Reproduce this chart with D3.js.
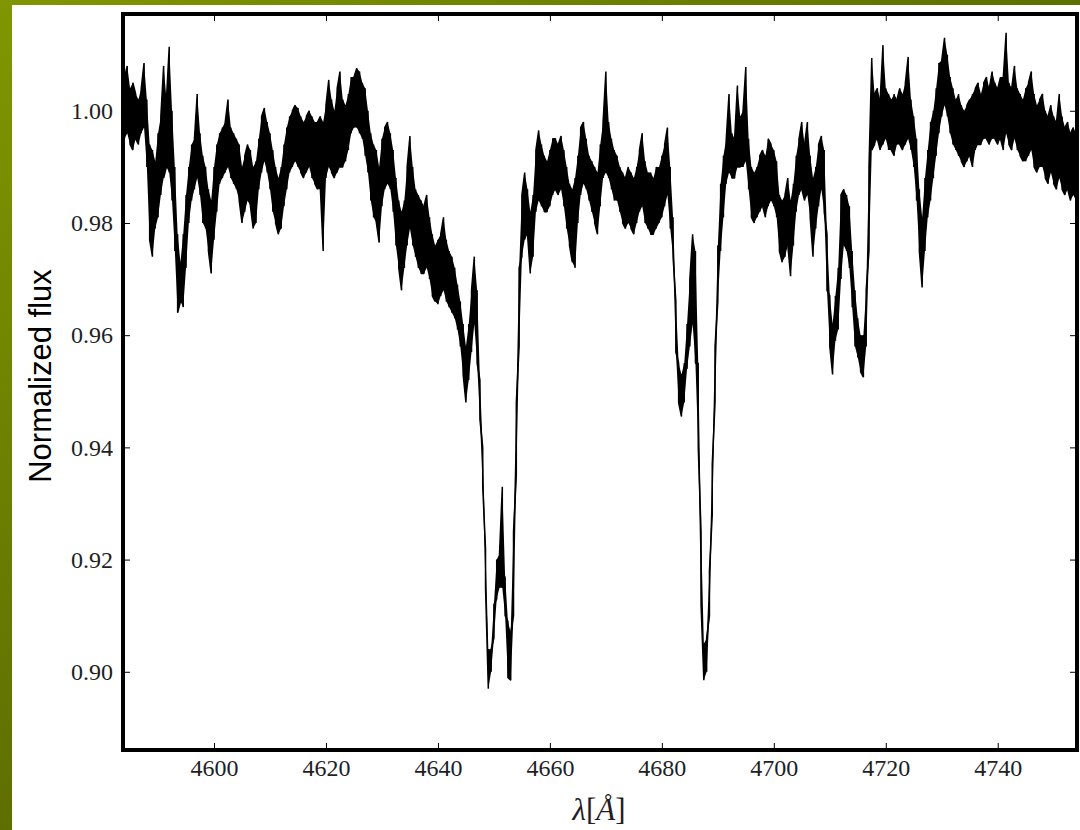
<!DOCTYPE html>
<html>
<head>
<meta charset="utf-8">
<script src="https://cdn.jsdelivr.net/npm/d3@7"></script>
<style>
  html, body { margin: 0; padding: 0; background: #fff; }
  svg { display: block; }
</style>
</head>
<body>
<script>
// Spectrum binned on a 0.5 Å grid: highest and lowest normalized flux in each bin.
const lambdaStart = 4583.5;
const lambdaStep = 0.5;

const fluxHigh = [
  1.003, 1.006, 1.008, 1.004, 1.005, 1.003, 1.002, 1.004, 1.0085, 1.002,   // 4583.5
  0.994, 0.993, 0.991, 0.996, 0.999, 1.008, 1.002, 1.0114, 1.000, 0.990,   // 4588.5
  0.978, 0.973, 0.978, 0.985, 0.990, 0.994, 0.995, 1.003, 0.996, 0.992,    // 4593.5
  0.990, 0.986, 0.984, 0.990, 0.994, 0.996, 0.997, 0.998, 1.002, 0.997,    // 4598.5
  0.996, 0.995, 0.994, 0.990, 0.992, 0.994, 0.993, 0.990, 0.991, 0.995,    // 4603.5
  0.999, 1.0005, 0.998, 0.996, 0.993, 0.990, 0.988, 0.990, 0.994, 0.997,   // 4608.5
  0.999, 1.000, 1.001, 1.0005, 0.999, 0.998, 0.999, 1.000, 0.999, 0.998,   // 4613.5
  0.998, 0.999, 0.998, 1.001, 1.0055, 1.002, 1.000, 1.004, 1.007, 1.002,   // 4618.5
  1.001, 1.003, 1.006, 1.006, 1.0076, 1.007, 1.005, 1.004, 1.000, 0.996,   // 4623.5
  0.994, 0.993, 0.990, 0.995, 0.997, 0.998, 0.996, 0.993, 0.988, 0.984,    // 4628.5
  0.982, 0.984, 0.990, 0.9955, 0.990, 0.986, 0.985, 0.984, 0.983, 0.985,   // 4633.5
  0.981, 0.978, 0.976, 0.977, 0.978, 0.981, 0.977, 0.975, 0.974, 0.972,    // 4638.5
  0.969, 0.966, 0.962, 0.958, 0.962, 0.968, 0.974, 0.968, 0.952, 0.940,    // 4643.5
  0.922, 0.904, 0.904, 0.912, 0.920, 0.921, 0.933, 0.917, 0.909, 0.907,    // 4648.5
  0.925, 0.948, 0.972, 0.985, 0.989, 0.986, 0.982, 0.985, 0.993, 0.9965,   // 4653.5
  0.994, 0.992, 0.991, 0.993, 0.995, 0.995, 0.994, 0.9955, 0.993, 0.990,   // 4658.5
  0.987, 0.986, 0.988, 0.992, 0.997, 0.998, 0.995, 0.992, 0.991, 0.990,    // 4663.5
  0.989, 0.994, 0.998, 1.007, 0.998, 0.995, 0.993, 0.992, 0.990, 0.989,    // 4668.5
  0.988, 0.990, 0.989, 0.988, 0.990, 0.993, 0.996, 0.991, 0.989, 0.989,    // 4673.5
  0.988, 0.990, 0.990, 0.992, 0.994, 0.997, 0.990, 0.981, 0.966, 0.955,    // 4678.5
  0.953, 0.955, 0.962, 0.970, 0.978, 0.975, 0.955, 0.925, 0.905, 0.906,    // 4683.5
  0.918, 0.937, 0.958, 0.976, 0.987, 0.992, 0.995, 1.003, 0.996, 0.995,    // 4688.5
  1.0045, 0.999, 1.000, 1.0078, 0.995, 0.990, 0.989, 0.990, 0.992, 0.993,  // 4693.5
  0.992, 0.995, 0.994, 0.993, 0.991, 0.985, 0.984, 0.985, 0.988, 0.984,    // 4698.5
  0.987, 0.992, 0.995, 0.998, 0.994, 0.998, 0.992, 0.988, 0.990, 0.994,    // 4703.5
  0.9955, 0.993, 0.978, 0.967, 0.962, 0.967, 0.972, 0.985, 0.986, 0.985,   // 4708.5
  0.983, 0.975, 0.968, 0.963, 0.960, 0.960, 0.968, 0.990, 1.0094, 1.003,   // 4713.5
  1.004, 1.002, 1.0117, 1.004, 1.003, 1.002, 1.003, 1.002, 1.004, 1.003,   // 4718.5
  1.005, 1.0096, 1.002, 0.999, 0.995, 0.986, 0.981, 0.988, 0.993, 0.998,   // 4723.5
  1.000, 1.004, 1.0085, 1.009, 1.013, 1.010, 1.006, 1.004, 1.002, 1.003,   // 4728.5
  1.001, 1.000, 1.001, 1.002, 1.003, 1.004, 1.005, 1.003, 1.005, 1.006,    // 4733.5
  1.004, 1.007, 1.005, 1.004, 1.006, 1.006, 1.0139, 1.005, 1.004, 1.008,   // 4738.5
  1.004, 1.003, 1.002, 1.004, 1.005, 1.007, 1.003, 1.001, 1.002, 1.003,    // 4743.5
  1.000, 0.999, 1.001, 0.999, 0.998, 1.003, 0.999, 0.997, 0.998, 0.996,    // 4748.5
  0.997, 0.996, 0.995                                                       // 4753.5
];

const fluxLow = [
  0.993, 0.995, 0.996, 0.994, 0.993, 0.995, 0.994, 0.996, 0.997, 0.990,    // 4583.5
  0.977, 0.974, 0.979, 0.981, 0.985, 0.988, 0.990, 0.989, 0.984, 0.975,    // 4588.5
  0.964, 0.966, 0.965, 0.972, 0.980, 0.984, 0.986, 0.988, 0.985, 0.980,    // 4593.5
  0.979, 0.975, 0.971, 0.977, 0.982, 0.987, 0.988, 0.989, 0.990, 0.988,    // 4598.5
  0.987, 0.986, 0.984, 0.980, 0.982, 0.984, 0.983, 0.979, 0.980, 0.986,    // 4603.5
  0.989, 0.991, 0.989, 0.986, 0.982, 0.980, 0.978, 0.979, 0.983, 0.986,    // 4608.5
  0.989, 0.990, 0.991, 0.990, 0.989, 0.988, 0.989, 0.990, 0.988, 0.987,    // 4613.5
  0.986, 0.986, 0.975, 0.988, 0.990, 0.989, 0.988, 0.989, 0.990, 0.990,    // 4618.5
  0.991, 0.993, 0.996, 0.997, 0.997, 0.996, 0.995, 0.992, 0.989, 0.984,    // 4623.5
  0.981, 0.980, 0.9765, 0.983, 0.986, 0.987, 0.986, 0.982, 0.976, 0.972,   // 4628.5
  0.968, 0.972, 0.976, 0.979, 0.976, 0.974, 0.972, 0.971, 0.971, 0.972,    // 4633.5
  0.970, 0.967, 0.966, 0.9655, 0.967, 0.968, 0.966, 0.965, 0.964, 0.963,   // 4638.5
  0.961, 0.958, 0.953, 0.948, 0.952, 0.957, 0.962, 0.955, 0.945, 0.933,    // 4643.5
  0.915, 0.897, 0.900, 0.906, 0.913, 0.915, 0.915, 0.910, 0.899, 0.8985,   // 4648.5
  0.910, 0.935, 0.958, 0.974, 0.977, 0.978, 0.971, 0.974, 0.982, 0.984,    // 4653.5
  0.983, 0.982, 0.982, 0.983, 0.985, 0.986, 0.985, 0.986, 0.983, 0.979,    // 4658.5
  0.976, 0.973, 0.972, 0.980, 0.985, 0.987, 0.986, 0.984, 0.982, 0.980,    // 4663.5
  0.978, 0.983, 0.988, 0.989, 0.988, 0.986, 0.984, 0.984, 0.982, 0.980,    // 4668.5
  0.979, 0.980, 0.979, 0.978, 0.980, 0.982, 0.983, 0.980, 0.979, 0.978,    // 4673.5
  0.978, 0.979, 0.980, 0.981, 0.983, 0.985, 0.979, 0.974, 0.957, 0.948,    // 4678.5
  0.9455, 0.948, 0.954, 0.958, 0.962, 0.955, 0.940, 0.912, 0.8985, 0.900,  // 4683.5
  0.910, 0.928, 0.948, 0.966, 0.975, 0.981, 0.987, 0.989, 0.988, 0.988,    // 4688.5
  0.990, 0.990, 0.990, 0.991, 0.986, 0.981, 0.980, 0.981, 0.982, 0.983,    // 4693.5
  0.981, 0.983, 0.984, 0.983, 0.981, 0.975, 0.973, 0.974, 0.976, 0.9705,   // 4698.5
  0.976, 0.982, 0.985, 0.986, 0.984, 0.985, 0.981, 0.974, 0.979, 0.983,    // 4703.5
  0.986, 0.982, 0.968, 0.958, 0.953, 0.959, 0.961, 0.970, 0.976, 0.975,    // 4708.5
  0.972, 0.965, 0.958, 0.956, 0.9535, 0.9525, 0.958, 0.975, 0.993, 0.994,  // 4713.5
  0.995, 0.993, 0.994, 0.995, 0.993, 0.993, 0.992, 0.994, 0.994, 0.993,    // 4718.5
  0.994, 0.995, 0.993, 0.990, 0.984, 0.975, 0.9685, 0.975, 0.981, 0.984,   // 4723.5
  0.988, 0.992, 0.996, 0.999, 1.001, 0.999, 0.996, 0.994, 0.993, 0.992,    // 4728.5
  0.991, 0.990, 0.991, 0.992, 0.990, 0.993, 0.994, 0.994, 0.995, 0.995,    // 4733.5
  0.994, 0.995, 0.995, 0.994, 0.995, 0.993, 0.996, 0.994, 0.993, 0.995,    // 4738.5
  0.993, 0.992, 0.991, 0.991, 0.992, 0.993, 0.990, 0.989, 0.990, 0.990,    // 4743.5
  0.988, 0.987, 0.989, 0.987, 0.986, 0.988, 0.986, 0.985, 0.986, 0.984,    // 4748.5
  0.985, 0.984, 0.984                                                       // 4753.5
];

const xTicks = [4600, 4620, 4640, 4660, 4680, 4700, 4720, 4740];
const yTicks = [0.90, 0.92, 0.94, 0.96, 0.98, 1.00];
const xDomain = [4583.74, 4754.16];
const yDomain = [0.88606, 1.01725];

const W = 1080, H = 830;
const plot = { left: 123, right: 1077, top: 14, bottom: 750 };

const bins = fluxHigh.map((hi, i) => ({
  lambda: lambdaStart + i * lambdaStep,
  hi: hi,
  lo: fluxLow[i]
}));

// Trace every bin as a vertical stroke between its extremes; the stroke is
// walked downward when the spectrum falls into the next bin and upward otherwise,
// so the wings of the absorption lines stay a single clean line.
const trace = [];
bins.forEach((b, i) => {
  const mid = (b.hi + b.lo) / 2;
  const nb = bins[i + 1];
  const next = nb ? (nb.hi + nb.lo) / 2 : mid;
  if (next < mid) {
    trace.push({ lambda: b.lambda, flux: b.hi });
    trace.push({ lambda: b.lambda, flux: b.lo });
  } else {
    trace.push({ lambda: b.lambda, flux: b.lo });
    trace.push({ lambda: b.lambda, flux: b.hi });
  }
});

const svg = d3.select("body").append("svg")
  .attr("width", W).attr("height", H);

// slide backdrop: green strips along the top and left edges
const defs = svg.append("defs");
const gTop = defs.append("linearGradient").attr("id", "stripTop")
  .attr("x1", "0").attr("y1", "0").attr("x2", "1").attr("y2", "0");
gTop.append("stop").attr("offset", "0").attr("stop-color", "#809600");
gTop.append("stop").attr("offset", "1").attr("stop-color", "#5c7000");
const gLeft = defs.append("linearGradient").attr("id", "stripLeft")
  .attr("x1", "0").attr("y1", "0").attr("x2", "0").attr("y2", "1");
gLeft.append("stop").attr("offset", "0").attr("stop-color", "#809600");
gLeft.append("stop").attr("offset", "1").attr("stop-color", "#5e6f00");

svg.append("rect").attr("width", W).attr("height", H).attr("fill", "#ffffff");
svg.append("rect").attr("x", 0).attr("y", 0).attr("width", W).attr("height", 5)
  .attr("fill", "url(#stripTop)");
svg.append("rect").attr("x", 0).attr("y", 0).attr("width", 12).attr("height", H)
  .attr("fill", "url(#stripLeft)");

defs.append("clipPath").attr("id", "plotClip")
  .append("rect")
  .attr("x", plot.left).attr("y", plot.top)
  .attr("width", plot.right - plot.left).attr("height", plot.bottom - plot.top);

const x = d3.scaleLinear().domain(xDomain).range([plot.left, plot.right]);
const y = d3.scaleLinear().domain(yDomain).range([plot.bottom, plot.top]);

// spectrum: filled band between the bin extremes, plus the per-bin trace
const spec = svg.append("g").attr("clip-path", "url(#plotClip)");

spec.append("path")
  .datum(bins)
  .attr("d", d3.area()
    .x(d => x(d.lambda))
    .y0(d => y(d.lo))
    .y1(d => y(d.hi)))
  .attr("fill", "#000");

spec.append("path")
  .datum(trace)
  .attr("d", d3.line()
    .x(d => x(d.lambda))
    .y(d => y(d.flux)))
  .attr("fill", "none")
  .attr("stroke", "#000")
  .attr("stroke-width", 1.5)
  .attr("stroke-linejoin", "bevel");

// axes with inward ticks
const tickFont = "'Liberation Serif', 'DejaVu Serif', 'Noto Serif', serif";

function styleAxis(g) {
  g.attr("font-family", null).attr("font-size", null);
  g.select(".domain").remove();
  g.selectAll(".tick line").attr("stroke", "#000").attr("stroke-width", 1);
  g.selectAll(".tick text")
    .attr("fill", "#1e1e24")
    .style("font-family", tickFont)
    .style("font-size", "24px");
}

svg.append("g")
  .attr("transform", `translate(0,${plot.bottom})`)
  .call(d3.axisBottom(x).tickValues(xTicks).tickFormat(d3.format("d"))
    .tickSize(-7).tickPadding(9))
  .call(styleAxis);

svg.append("g")
  .attr("transform", `translate(0,${plot.top})`)
  .call(d3.axisTop(x).tickValues(xTicks).tickFormat("").tickSize(-7))
  .call(styleAxis);

svg.append("g")
  .attr("transform", `translate(${plot.left},0)`)
  .call(d3.axisLeft(y).tickValues(yTicks).tickFormat(d3.format(".2f"))
    .tickSize(-7).tickPadding(10))
  .call(styleAxis);

svg.append("g")
  .attr("transform", `translate(${plot.right},0)`)
  .call(d3.axisRight(y).tickValues(yTicks).tickFormat("").tickSize(-7))
  .call(styleAxis);

// frame
svg.append("rect")
  .attr("x", plot.left).attr("y", plot.top)
  .attr("width", plot.right - plot.left).attr("height", plot.bottom - plot.top)
  .attr("fill", "none").attr("stroke", "#000").attr("stroke-width", 4);

// axis titles
svg.append("text")
  .attr("transform", "translate(51,376) rotate(-90)")
  .attr("text-anchor", "middle")
  .style("font-family", "'Liberation Sans', Arial, sans-serif")
  .style("font-size", "31px")
  .attr("fill", "#000")
  .text("Normalized flux");

const xTitle = svg.append("text")
  .attr("x", 599).attr("y", 820)
  .attr("text-anchor", "middle")
  .style("font-family", tickFont)
  .style("font-size", "31px")
  .attr("fill", "#1e1e24");
xTitle.append("tspan").style("font-style", "italic").text("λ");
xTitle.append("tspan").text("[");
xTitle.append("tspan").style("font-style", "italic").text("Å");
xTitle.append("tspan").text("]");
</script>
</body>
</html>
